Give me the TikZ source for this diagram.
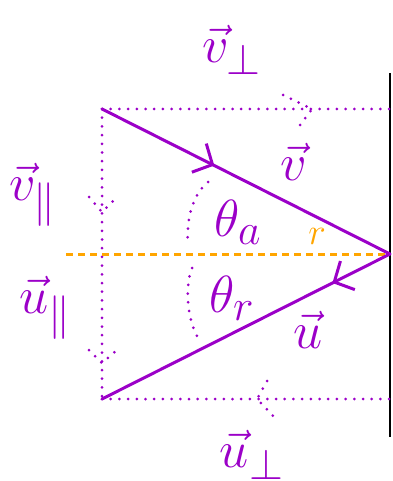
\documentclass[tikz,border=0pt]{standalone}
\usetikzlibrary{calc,decorations.markings,arrows.meta}
\definecolor{pur}{RGB}{155,0,200}
\definecolor{org}{RGB}{255,165,0}
\newcommand{\biglab}[1]{\scalebox{2.1}{\Huge$#1$}}
\begin{document}
\begin{tikzpicture}[x=1pt,y=-1pt,
  solidl/.style={pur, line width=3pt, line cap=round},
  dotl/.style={pur, line width=3pt, line cap=round, dash pattern=on 0pt off 8.7pt},
  dashl/.style={org, line width=3pt, dash pattern=on 7pt off 5pt},
  lab/.style={pur, inner sep=0pt},
  barb/.style={decoration={markings, mark=at position #1 with {\arrow{Straight Barb[length=15pt,width=32pt,line width=3pt]}}}, postaction={decorate}}
]
\useasboundingbox (0,0) rectangle (392,481);
\coordinate (A) at (102,109);
\coordinate (V) at (390,254);
\coordinate (C) at (102,399);
\coordinate (D) at (392,109);
\coordinate (E) at (392,399);
\coordinate (W1) at (390,73);
\coordinate (W2) at (390,437);
\coordinate (O) at (66,254);

\draw[black, line width=2pt] (W1) -- (W2);
\draw[dotl] (A) -- (D);
\draw[dotl] (C) -- (E);
\draw[dotl] (A) -- (C);
\draw[dashl] (O) -- (V);
\draw[solidl, barb=0.39] (A) -- (V);
\draw[solidl, barb=0.2] (V) -- (C);

% dotted chevrons
\coordinate (cT) at (312,109);
\coordinate (cB) at (257,399);
\coordinate (cL1) at (102,212);
\coordinate (cL2) at (102,363);
\draw[dotl] ($(cT)+(-29,-14)$) -- (cT) -- ($(cT)+(-12,16)$);
\draw[dotl] ($(cB)+(10,-18)$) -- (cB) -- ($(cB)+(20,21)$);
\draw[dotl] ($(cL1)+(-13,-15)$) -- (cL1) -- ($(cL1)+(13,-13)$);
\draw[dotl] ($(cL2)+(-13,-13)$) -- (cL2) -- ($(cL2)+(15,-13)$);

% angle arcs
\coordinate (a1) at (208,182);
\coordinate (a2) at (188,246);
\coordinate (r1) at (192,268);
\coordinate (r2) at (198,338);
\draw[dotl] (a1) .. controls (192,195) and (186,220) .. (a2);
\draw[dotl] (r1) .. controls (184,290) and (188,320) .. (r2);

% labels
\node[lab] (vperp) at (232,50) {\biglab{\vec{v}_{\perp}}};
\node[lab] (vvec) at (294,162) {\biglab{\vec{v}}};
\node[lab] (vpar) at (33,195) {\biglab{\vec{v}_{\parallel}}};
\node[lab] (upar) at (45,308) {\biglab{\vec{u}_{\parallel}}};
\node[lab] (uvec) at (308,330) {\biglab{\vec{u}}};
\node[lab] (uperp) at (252,455) {\biglab{\vec{u}_{\perp}}};
\node[lab] (ta) at (238,222) {\biglab{\theta_a}};
\node[lab] (tr) at (232,298) {\biglab{\theta_r}};
\node[org, inner sep=0pt] (r) at (317,236) {\scalebox{1.5}{\Huge$r$}};
\end{tikzpicture}
\end{document}
